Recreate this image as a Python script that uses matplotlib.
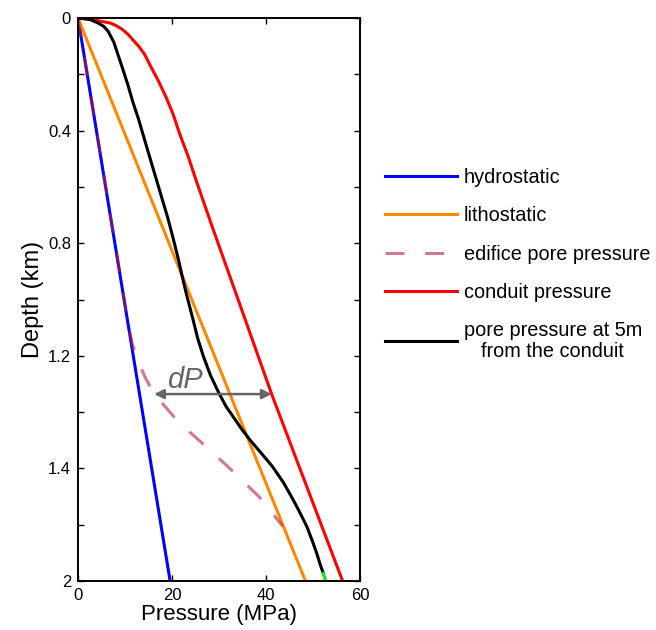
import matplotlib
matplotlib.use("Agg")
import matplotlib.pyplot as plt

plt.rcParams["font.family"] = ["Liberation Sans", "DejaVu Sans"]

# pressure (MPa) against depth (km)
hydro_depth = [0.0, 2.0]
hydro_p = [0.0, 19.6]

litho_depth = [0.0, 2.0]
litho_p = [0.0, 48.4]

edifice_depth = [0.0, 1.10, 1.16, 1.21, 1.27, 1.331, 1.434, 1.525, 1.617, 1.712, 1.805]
edifice_p = [0.0, 10.8, 11.6, 12.6, 14.1, 16.0, 21.3, 27.4, 33.4, 39.2, 43.5]

conduit_depth = [0.0, 0.003, 0.008, 0.018, 0.027, 0.040, 0.059, 0.078, 0.10,
                 0.13, 0.173, 0.22, 0.28, 0.34, 0.41, 0.49, 0.58, 0.734,
                 0.983, 1.336, 2.0]
conduit_p = [0.0, 1.8, 3.8, 6.9, 8.1, 9.4, 10.7, 11.7, 12.9,
             14.2, 15.5, 17.0, 18.7, 20.2, 21.6, 23.4, 25.2, 28.4,
             33.7, 41.2, 56.3]

pore_depth = [0.0, 0.005, 0.018, 0.03, 0.047, 0.085, 0.13, 0.18, 0.237, 0.30,
              0.355, 0.474, 0.592, 0.71, 0.78, 0.853, 0.92, 0.983, 1.073,
              1.14, 1.203, 1.27, 1.333, 1.38, 1.416, 1.46, 1.499, 1.55,
              1.594, 1.65, 1.712, 1.76, 1.807, 1.855, 1.902, 1.94, 1.973]
pore_p = [0.0, 2.5, 4.3, 5.5, 6.4, 7.6, 8.5, 9.5, 10.6, 11.7,
          12.8, 14.9, 17.0, 19.1, 20.2, 21.3, 22.2, 23.1, 24.5,
          25.5, 26.7, 28.2, 30.0, 31.5, 33.0, 34.8, 36.6, 39.2,
          41.4, 43.7, 45.8, 47.3, 48.7, 49.8, 50.8, 51.5, 52.2]
pore_end_depth = [1.973, 2.0]
pore_end_p = [52.2, 52.7]

dp_depth = 1.336
dp_left = 16.2
dp_right = 41.2

y_ticks = [0, 0.2, 0.4, 0.6, 0.8, 1.0, 1.2, 1.4, 1.6, 1.8, 2.0]
y_labels = ["0", "", "0.4", "", "0.8", "", "1.2", "", "1.4", "", "2"]
x_ticks = [0, 20, 40, 60]

fig = plt.figure(figsize=(6.56, 6.30), dpi=100)
ax = fig.add_axes([78 / 656, 1 - 581 / 630, 282 / 656, 563 / 630])

lw = 2.2
ax.plot(hydro_p, hydro_depth, color="#0000ff", lw=lw, label="hydrostatic")
ax.plot(litho_p, litho_depth, color="#ff8800", lw=lw, label="lithostatic")
ax.plot(edifice_p, edifice_depth, color="#b41e3f", alpha=0.6, lw=lw,
        dashes=(6.2, 6.8), label="edifice pore pressure")
ax.plot(conduit_p, conduit_depth, color="#ff0000", lw=lw, label="conduit pressure")
ax.plot(pore_p, pore_depth, color="black", lw=lw,
        label="pore pressure at 5m\nfrom the conduit")
ax.plot(pore_end_p, pore_end_depth, color="#00ee00", lw=lw)

ax.annotate("", xy=(dp_left, dp_depth), xytext=(dp_right, dp_depth),
            arrowprops=dict(arrowstyle="<|-|>", color="#666666", lw=1.8,
                            mutation_scale=14, shrinkA=0, shrinkB=0))
ax.text(22.8, dp_depth - 0.022, "dP", color="#666666",
        fontsize=21, style="italic", ha="center", va="baseline")

ax.set_xlim(0, 60)
ax.set_ylim(2, 0)
ax.set_xticks(x_ticks)
ax.set_yticks(y_ticks)
ax.set_yticklabels(y_labels)
ax.tick_params(direction="in", length=4, width=1.0, labelsize=12, pad=5,
               top=True, right=True)
for s in ax.spines.values():
    s.set_linewidth(1.4)
for i in (7, 8):
    ax.yaxis.get_major_ticks()[i].tick2line.set_color("#ff6060")

ax.set_xlabel("Pressure (MPa)", fontsize=16, labelpad=1)
ax.set_ylabel("Depth (km)", fontsize=17, labelpad=3)

leg = ax.legend(loc="upper left", bbox_to_anchor=(385 / 656, 1 - 168 / 630),
                bbox_transform=fig.transFigure, frameon=False, fontsize=14.3,
                handlelength=3.6, handletextpad=0.36, labelspacing=0.97,
                borderpad=0, borderaxespad=0)
for t in leg.get_texts():
    t.set_multialignment("center")
    t.set_linespacing(1.1)

fig.savefig("out.png", dpi=100)
